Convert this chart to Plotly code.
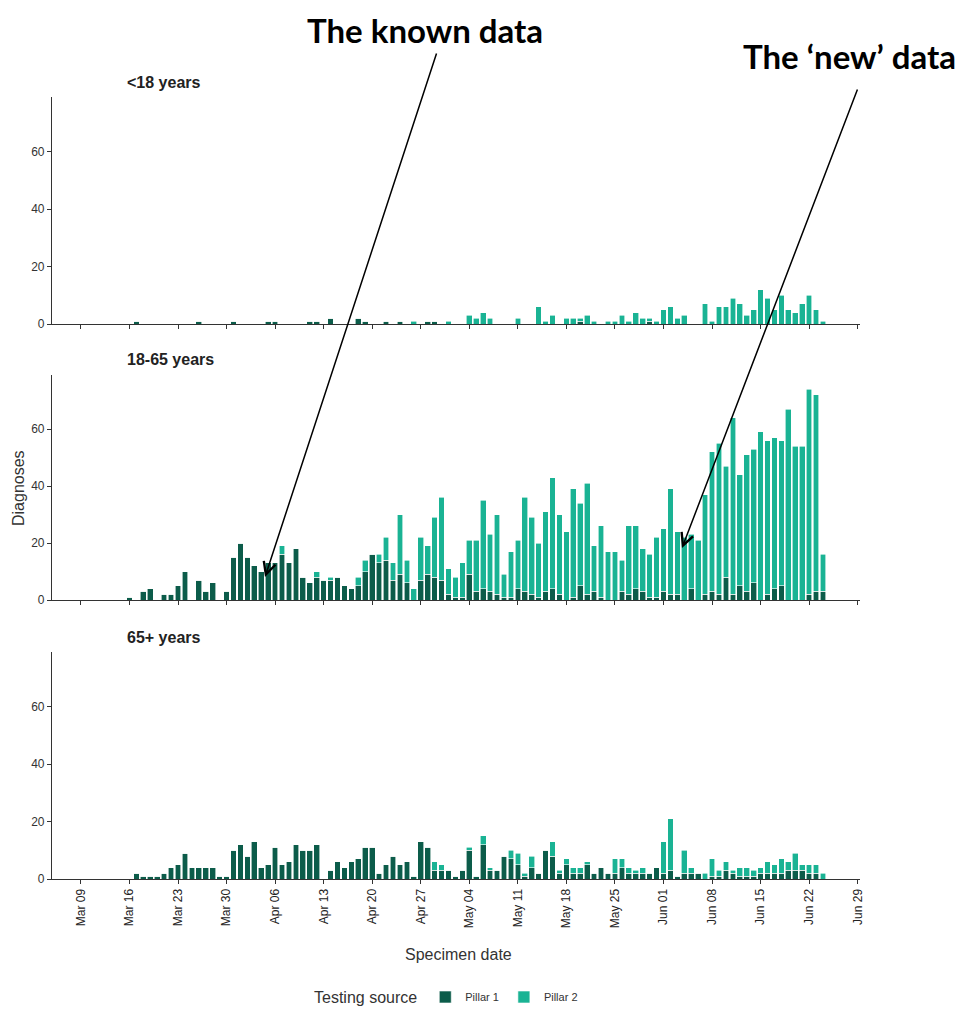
import pandas as pd
import plotly.graph_objects as go

# ---------------- data ----------------
dates = pd.date_range("2020-03-16", "2020-06-24", freq="D")

# <18 years
u18_p1_mar = [0,1,0,0,0,0,0,0,0,0,1,0,0,0,0,1]
u18_p1_apr = [0,0,0,0,1,1,0,0,0,0,1,1,0,2,0,0,0,2,1,0,0,1,0,1,0,0,0,1,1,0]
u18_p1_may = [0,0,0,0,0,0,0,0,0,0,0,0,0,0,0,0,0,0,0,1,0,0,0,0,0,0,0,0,0,1,0]
u18_p1_jun = [0,0,0,0,0,0,0,0,0,0,0,0,0,0,0,0,0,0,0,0,0,0,0,0]
u18_p2_mar = [0,0,0,0,0,0,0,0,0,0,0,0,0,0,0,0]
u18_p2_apr = [0,0,0,0,0,0,0,0,0,0,0,0,0,0,0,0,0,0,0,0,0,0,0,0,0,1,0,0,0,0]
u18_p2_may = [1,0,0,3,2,4,2,0,0,0,2,0,0,6,1,3,0,2,2,1,3,1,0,1,1,3,1,4,2,1,1]
u18_p2_jun = [5,6,2,3,0,0,7,1,6,6,9,7,3,5,12,9,5,10,5,4,7,10,5,1]

# 18-65 years
adult_p1_mar = [1,0,3,4,0,2,2,5,10,0,7,3,6,0,3,15]
adult_p1_apr = [20,15,12,10,13,13,16,13,18,8,6,8,7,7,8,5,4,5,10,16,13,14,7,9,6,0,7,9,8,7]
adult_p1_may = [2,1,1,9,3,4,3,2,1,1,4,3,2,1,3,4,2,0,1,5,2,3,1,0,0,3,2,4,3,1,1]
adult_p1_jun = [3,2,2,0,4,0,2,3,2,8,2,5,3,6,0,2,4,5,0,0,0,2,3,3]
adult_p2_mar = [0,0,0,0,0,0,0,0,0,0,0,0,0,0,0,0]
adult_p2_apr = [0,0,0,0,0,0,3,0,0,0,0,2,0,1,0,0,0,3,4,0,3,8,6,21,8,4,15,10,21,29]
adult_p2_may = [9,7,12,12,18,31,20,28,8,16,17,33,27,19,28,39,28,24,38,29,39,16,25,17,17,11,24,22,15,15,21]
adult_p2_jun = [22,37,22,22,19,21,35,49,53,39,62,39,48,47,59,54,53,51,67,54,54,72,69,13]

# 65+ years
old_p1_mar = [0,2,1,1,1,2,4,5,9,4,4,4,4,1,1,10]
old_p1_apr = [12,8,13,4,5,11,5,6,12,10,10,12,0,3,6,4,6,7,11,11,2,5,8,5,6,1,13,11,3,3]
old_p1_may = [3,1,3,10,1,12,3,3,8,7,5,1,4,2,10,8,2,5,2,2,5,2,4,2,2,4,2,2,2,2,4]
old_p1_jun = [2,3,1,2,2,2,0,1,1,3,2,1,1,1,2,2,2,2,3,3,3,2,2,0]
old_p2_mar = [0,0,0,0,0,0,0,0,0,0,0,0,0,0,0,0]
old_p2_apr = [0,0,0,0,0,0,0,0,0,0,0,0,0,0,0,0,0,0,0,0,0,0,0,0,0,0,0,0,3,2]
old_p2_may = [0,0,0,1,0,3,1,0,0,3,4,1,4,0,0,5,1,2,2,2,1,0,0,0,5,3,2,1,2,0,0]
old_p2_jun = [11,18,0,8,2,0,2,6,2,3,1,3,3,2,2,4,3,5,3,6,2,3,3,2]

panel_titles = ["<18 years", "18-65 years", "65+ years"]
series_names = ["Pillar 1", "Pillar 2"]
tick_dates = ["2020-03-09", "2020-03-16", "2020-03-23", "2020-03-30", "2020-04-06",
              "2020-04-13", "2020-04-20", "2020-04-27", "2020-05-04", "2020-05-11",
              "2020-05-18", "2020-05-25", "2020-06-01", "2020-06-08", "2020-06-15",
              "2020-06-22", "2020-06-29"]
y_ticks = [0, 20, 40, 60]

panels = [
    (u18_p1_mar + u18_p1_apr + u18_p1_may + u18_p1_jun,
     u18_p2_mar + u18_p2_apr + u18_p2_may + u18_p2_jun),
    (adult_p1_mar + adult_p1_apr + adult_p1_may + adult_p1_jun,
     adult_p2_mar + adult_p2_apr + adult_p2_may + adult_p2_jun),
    (old_p1_mar + old_p1_apr + old_p1_may + old_p1_jun,
     old_p2_mar + old_p2_apr + old_p2_may + old_p2_jun),
]

# ---------------- style ----------------
C_P1 = "#0c5c4a"
C_P2 = "#1ab394"
FONT = "Liberation Sans, Arial, sans-serif"
OFF = 8                      # page body margin
W, H = 965 - OFF, 1014 - 2 * OFF
L_PX, R_PX, T_PX, B_PX = 52, 860, 97, 879   # plot area in screen pixels
panel_px = [(97, 324), (375, 600), (652, 879)]


def py(y):
    return (B_PX - y) / (B_PX - T_PX)


def px(x):
    return (x - L_PX) / (R_PX - L_PX)


fig = go.Figure()
bar_w = 0.82 * 86400000
for i, (p1, p2) in enumerate(panels):
    ax = "" if i == 0 else str(i + 1)
    for name, vals, col in ((series_names[0], p1, C_P1), (series_names[1], p2, C_P2)):
        fig.add_trace(go.Bar(
            x=dates, y=vals, name=name, marker_color=col,
            marker_line_color="white", marker_line_width=0.6,
            width=bar_w, xaxis="x" + ax, yaxis="y" + ax,
            legendgroup=name, showlegend=(i == 0),
        ))

layout = dict(
    width=W, height=H, barmode="stack",
    plot_bgcolor="white", paper_bgcolor="white",
    margin=dict(l=L_PX - OFF, r=W - (R_PX - OFF), t=T_PX - OFF, b=H - (B_PX - OFF),
                autoexpand=False),
    font=dict(family=FONT, color="#333333", size=11),
    legend=dict(orientation="h", x=px(312), xanchor="left", y=py(998), yanchor="middle",
                title=dict(text="Testing source", font=dict(size=16, color="#333")),
                font=dict(size=11, color="#333"), itemwidth=30, tracegroupgap=0),
)

for i, (top, bot) in enumerate(panel_px):
    ax = "" if i == 0 else str(i + 1)
    layout["xaxis" + ax] = dict(
        type="date", domain=[0, 1], anchor="y" + ax,
        range=["2020-03-04 20:00", "2020-06-29 08:00"],
        tickvals=tick_dates, tickformat="%b %d", tickangle=-90,
        showticklabels=(i == 2), ticks="outside", ticklen=4, tickcolor="#333",
        showline=True, linecolor="#333", linewidth=1.2, showgrid=False, zeroline=False,
        tickfont=dict(size=12, color="#222"),
        matches=None if i == 0 else "x",
    )
    layout["yaxis" + ax] = dict(
        domain=[py(bot), py(top)], anchor="x" + ax, range=[0, 79],
        tickvals=y_ticks, ticks="outside", ticklen=4, tickcolor="#333",
        showline=True, linecolor="#333", linewidth=1.2, showgrid=False, zeroline=False,
        tickfont=dict(size=12, color="#333"),
    )

fig.update_layout(**layout)

annots = []
for i, (top, bot) in enumerate(panel_px):
    annots.append(dict(text="<b>" + panel_titles[i] + "</b>", xref="paper", yref="paper",
                       x=px(125), y=py(top - 15), xanchor="left", yanchor="middle",
                       showarrow=False, font=dict(size=16, color="#222")))
annots.append(dict(text="Diagnoses", xref="paper", yref="paper", x=px(18), y=py(488),
                   textangle=-90, showarrow=False, font=dict(size=16, color="#333"),
                   xanchor="center", yanchor="middle"))
annots.append(dict(text="Specimen date", xref="paper", yref="paper", x=px(458), y=py(955),
                   showarrow=False, font=dict(size=16, color="#333"),
                   xanchor="center", yanchor="middle"))
# callouts
annots.append(dict(text="<b>The known data</b>", xref="paper", yref="paper", x=px(425), y=py(OFF + 1),
                   showarrow=False, font=dict(size=33, color="black", family="Lato, Liberation Sans"),
                   xanchor="center", yanchor="top", borderpad=0))
annots.append(dict(text="<b>The ‘new’ data</b>", xref="paper", yref="paper", x=px(849), y=py(56),
                   showarrow=False, font=dict(size=33, color="black", family="Lato, Liberation Sans"),
                   xanchor="center", yanchor="middle"))
annots.append(dict(text="", xref="paper", yref="paper", x=px(265), y=py(577),
                   ax=437 - 265, ay=52 - 577, showarrow=True, arrowhead=5, arrowsize=1.6,
                   arrowwidth=1.5, arrowcolor="black"))
annots.append(dict(text="", xref="paper", yref="paper", x=px(682), y=py(548),
                   ax=858 - 682, ay=88 - 548, showarrow=True, arrowhead=5, arrowsize=1.6,
                   arrowwidth=1.5, arrowcolor="black"))
fig.update_layout(annotations=annots)

fig.write_html("out.html")
